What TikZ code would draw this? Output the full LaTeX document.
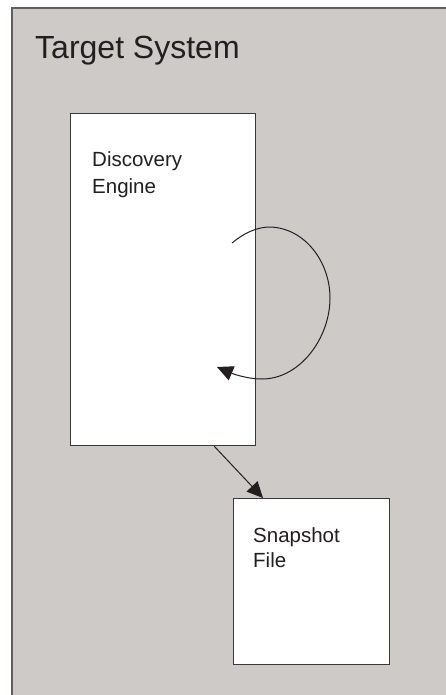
\documentclass[tikz,border=0pt]{standalone}
\usepackage{fontspec}
\setmainfont{Liberation Sans}
\usetikzlibrary{arrows.meta,calc}
\definecolor{panel}{HTML}{CECAC7}
\definecolor{edge}{HTML}{3A3838}
\definecolor{ink}{HTML}{231F20}
\begin{document}
\begin{tikzpicture}[x=1pt,y=-1pt,
  box/.style={draw=edge,line width=1.3pt,fill=white,anchor=north west,inner sep=0pt},
  label/.style={anchor=base west,inner sep=0pt,align=left,text=ink},
  flow/.style={line width=1pt,draw=ink,-{Triangle[length=16pt,width=15pt]}}]
\useasboundingbox (0,0) rectangle (446,695);
% system panel, open to the right and bottom
\fill[panel] (12,8) rectangle (450,700);
\draw[edge!80,line width=1.5pt] (12,700) -- (12,8) -- (450,8);
\node[label,font=\fontsize{32}{36}\selectfont] (title) at (35,59) {Target System};
% components
\node[box,minimum width=185pt,minimum height=332pt] (engine) at (70,113) {};
\node[box,minimum width=156pt,minimum height=166pt] (snap) at (233,498) {};
% multi-line labels are anchored on the baseline of their last line
\node[label,font=\fontsize{20.5}{26}\selectfont] (enginetext) at (92,193) {Discovery\\Engine};
\node[label,font=\fontsize{20.5}{25}\selectfont] (snaptext) at (253,567) {Snapshot\\File};
% self loop of the engine
\coordinate (loopstart) at (232,243);
\coordinate (looptop) at (270,227);
\coordinate (loopright) at (330,298);
\coordinate (loopbottom) at (262,379);
\coordinate (loopend) at (217,367);
\draw[flow] (loopstart) .. controls (244,233) and (257,227) .. (looptop)
  .. controls (305,228) and (330,262) .. (loopright)
  .. controls (330,338) and (300,379) .. (loopbottom)
  .. controls (246,379) and (231,373) .. (loopend);
% output to the snapshot file
\draw[flow] ($(engine.south east)+(-42,0)$) -- ($(snap.north west)+(30,0)$);
\end{tikzpicture}
\end{document}
